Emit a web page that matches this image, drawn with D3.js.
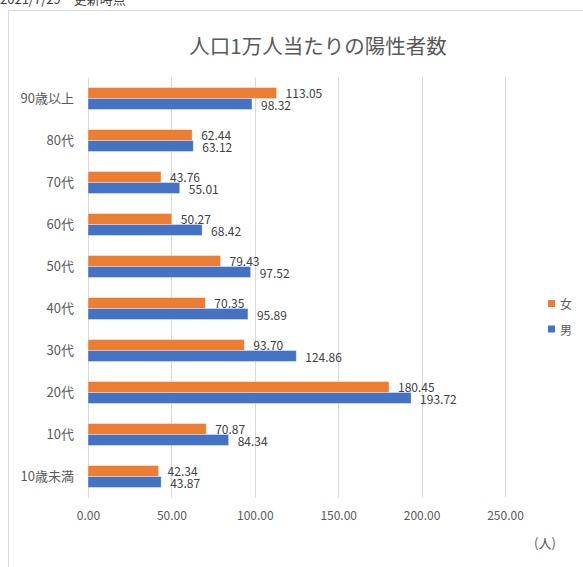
<!DOCTYPE html>
<html>
<head>
<meta charset="utf-8">
<script src="https://cdn.jsdelivr.net/npm/d3@7"></script>
<style>
  body { margin: 0; background: #fff; }
  text { font-family: "Noto Sans CJK JP", "Noto Sans", sans-serif; }
</style>
</head>
<body>
<div id="chart"></div>
<script>
// data
var ageGroups = ["90歳以上", "80代", "70代", "60代", "50代", "40代", "30代", "20代", "10代", "10歳未満"];
var female = [113.05, 62.44, 43.76, 50.27, 79.43, 70.35, 93.70, 180.45, 70.87, 42.34];
var male = [98.32, 63.12, 55.01, 68.42, 97.52, 95.89, 124.86, 193.72, 84.34, 43.87];
var xTicks = [0, 50, 100, 150, 200, 250];
var seriesNames = ["女", "男"];
var seriesColors = ["#ED7D31", "#4472C4"];

var svgWidth = 583;
var svgHeight = 567;

var svg = d3.select("#chart")
  .append("svg")
  .attr("width", svgWidth)
  .attr("height", svgHeight);

// date note at the very top (half cut off)
svg.append("text")
  .attr("x", 0)
  .attr("y", 4)
  .attr("font-size", 13)
  .attr("fill", "#404040")
  .text("2021/7/29　更新時点");

// chart frame
svg.append("rect")
  .attr("x", 8.5)
  .attr("y", 10.5)
  .attr("width", 590)
  .attr("height", 600)
  .attr("fill", "#fff")
  .attr("stroke", "#d9d9d9");

// title
svg.append("text")
  .attr("x", 318)
  .attr("y", 45)
  .attr("text-anchor", "middle")
  .attr("dominant-baseline", "central")
  .attr("font-size", 20.5)
  .attr("fill", "#595959")
  .text("人口1万人当たりの陽性者数");

var xScale = d3.scaleLinear()
  .domain([0, 250])
  .range([88, 505]);

var yScale = d3.scaleBand()
  .domain(ageGroups)
  .range([77.5, 497.5])
  .paddingInner(0.476)
  .paddingOuter(0.238);

var sub = d3.scaleBand()
  .domain(seriesNames)
  .range([0, yScale.bandwidth()]);

// vertical gridlines
svg.append("g")
  .selectAll("line")
  .data(xTicks)
  .enter()
  .append("line")
  .attr("x1", d => Math.round(xScale(d)) + 0.5)
  .attr("x2", d => Math.round(xScale(d)) + 0.5)
  .attr("y1", 77.5)
  .attr("y2", 497.5)
  .attr("stroke", "#d9d9d9")
  .attr("stroke-width", 1);

// x axis labels
var xAxis = d3.axisBottom(xScale)
  .tickValues(xTicks)
  .tickFormat(d3.format(".2f"))
  .tickSize(0)
  .tickPadding(0);

var xAxisGroup = svg.append("g")
  .attr("transform", "translate(0,510)")
  .call(xAxis);
xAxisGroup.select(".domain").remove();
xAxisGroup.selectAll("text")
  .attr("font-size", 12)
  .attr("fill", "#595959")
  .attr("dy", "0.35em")
  .attr("y", 6);

// y axis labels
var yAxis = d3.axisLeft(yScale).tickSize(0).tickPadding(14);
var yAxisGroup = svg.append("g")
  .attr("transform", "translate(88,0)")
  .call(yAxis);
yAxisGroup.select(".domain").remove();
yAxisGroup.selectAll("text")
  .attr("font-size", 13)
  .attr("fill", "#595959");

// bars
var seriesData = [female, male];
seriesData.forEach((values, si) => {
  var name = seriesNames[si];
  var g = svg.append("g");

  g.selectAll("rect")
    .data(values)
    .enter()
    .append("rect")
    .attr("x", xScale(0))
    .attr("y", (d, i) => yScale(ageGroups[i]) + sub(name))
    .attr("width", d => xScale(d) - xScale(0))
    .attr("height", sub.bandwidth())
    .attr("fill", seriesColors[si])
    .attr("stroke", "#ffffff")
    .attr("stroke-opacity", 0.5)
    .attr("stroke-width", 0.75);

  g.selectAll("text")
    .data(values)
    .enter()
    .append("text")
    .attr("x", d => xScale(d) + 9)
    .attr("y", (d, i) => yScale(ageGroups[i]) + sub(name) + sub.bandwidth() / 2)
    .attr("dominant-baseline", "central")
    .attr("font-size", 12)
    .attr("fill", "#404040")
    .text(d => d.toFixed(2));
});

// legend
var legend = svg.append("g");
seriesNames.forEach((name, i) => {
  legend.append("rect")
    .attr("x", 548)
    .attr("y", 300 + i * 25.5)
    .attr("width", 7)
    .attr("height", 7)
    .attr("fill", seriesColors[i]);
  legend.append("text")
    .attr("x", 560)
    .attr("y", 303.5 + i * 25.5)
    .attr("dominant-baseline", "central")
    .attr("font-size", 12)
    .attr("fill", "#595959")
    .text(name);
});

// unit label
svg.append("text")
  .attr("x", 545)
  .attr("y", 542)
  .attr("text-anchor", "middle")
  .attr("dominant-baseline", "central")
  .attr("font-size", 13)
  .attr("fill", "#595959")
  .text("(人)");
</script>
</body>
</html>
